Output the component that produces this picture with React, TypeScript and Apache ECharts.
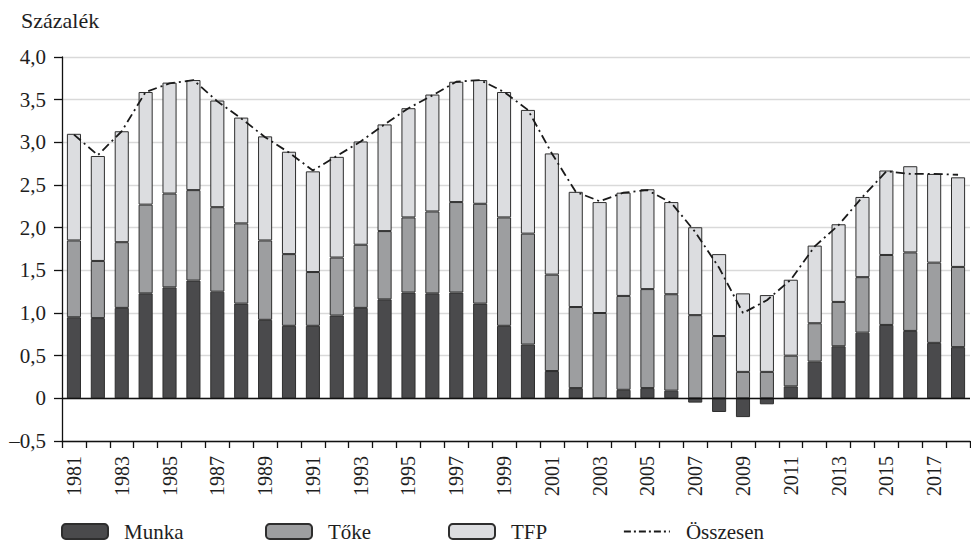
import React, { useEffect, useRef } from "react";
import * as echarts from "echarts";

const years = [
  "1981", "1982", "1983", "1984", "1985", "1986", "1987", "1988", "1989", "1990",
  "1991", "1992", "1993", "1994", "1995", "1996", "1997", "1998", "1999", "2000",
  "2001", "2002", "2003", "2004", "2005", "2006", "2007", "2008", "2009", "2010",
  "2011", "2012", "2013", "2014", "2015", "2016", "2017", "2018",
];

const munka = [
  0.95, 0.94, 1.06, 1.23, 1.3, 1.38, 1.25, 1.11, 0.92, 0.85,
  0.85, 0.97, 1.06, 1.16, 1.24, 1.23, 1.24, 1.11, 0.85, 0.63,
  0.32, 0.12, 0.0, 0.1, 0.12, 0.09, -0.05, -0.16, -0.22, -0.07,
  0.14, 0.43, 0.61, 0.77, 0.86, 0.79, 0.65, 0.6,
];

const toke = [
  0.9, 0.67, 0.77, 1.04, 1.1, 1.06, 0.99, 0.94, 0.93, 0.84,
  0.63, 0.68, 0.74, 0.8, 0.88, 0.96, 1.06, 1.17, 1.27, 1.3,
  1.13, 0.95, 1.0, 1.1, 1.16, 1.13, 0.975, 0.73, 0.31, 0.31,
  0.36, 0.45, 0.52, 0.65, 0.82, 0.92, 0.94, 0.94,
];

const tfp = [
  1.25, 1.23, 1.3, 1.32, 1.3, 1.29, 1.25, 1.24, 1.22, 1.2,
  1.18, 1.18, 1.21, 1.25, 1.28, 1.37, 1.41, 1.45, 1.47, 1.45,
  1.42, 1.35, 1.3, 1.21, 1.17, 1.08, 1.03, 0.96, 0.92, 0.9,
  0.89, 0.91, 0.91, 0.94, 0.99, 1.01, 1.04, 1.05,
];

const osszesen = [
  3.09, 2.85, 3.13, 3.59, 3.69, 3.73, 3.48, 3.28, 3.06, 2.88,
  2.67, 2.84, 3.01, 3.21, 3.4, 3.55, 3.71, 3.73, 3.59, 3.38,
  2.87, 2.42, 2.31, 2.41, 2.44, 2.29, 1.95, 1.53, 1.0, 1.15,
  1.39, 1.78, 2.03, 2.36, 2.66, 2.63, 2.63, 2.62,
];

const FONT = "'Liberation Serif', 'DejaVu Serif', serif";
const TEXT = "#1e1e1e";
const BORDER = "#2e2e2e";

export default function App() {
  const ref = useRef<HTMLDivElement>(null);

  useEffect(() => {
    if (!ref.current) return;
    const chart = echarts.init(ref.current, undefined, { renderer: "svg" });

    const barBase = {
      type: "bar" as const,
      stack: "total",
      barCategoryGap: "41%",
    };

    const legendCommon = {
      orient: "horizontal" as const,
      top: 521,
      padding: 0,
      itemWidth: 46,
      itemHeight: 15,
      itemGap: 0,
      textStyle: {
        fontFamily: FONT,
        fontSize: 21,
        color: TEXT,
        padding: [0, 0, 0, 11],
      },
    };

    chart.setOption({
      animation: false,
      backgroundColor: "#ffffff",
      title: {
        text: "Százalék",
        left: 21,
        top: 9,
        padding: 0,
        textStyle: {
          fontFamily: FONT,
          fontSize: 22,
          fontWeight: "normal",
          color: TEXT,
        },
      },
      legend: [
        { ...legendCommon, left: 61, data: ["Munka"] },
        { ...legendCommon, left: 265, data: ["Tőke"] },
        { ...legendCommon, left: 448, data: ["TFP"] },
        {
          ...legendCommon,
          left: 623,
          data: ["Összesen"],
          itemStyle: {
            color: "rgba(0,0,0,0)",
            borderColor: "rgba(0,0,0,0)",
            borderWidth: 0,
            opacity: 0,
          },
          lineStyle: {
            color: "#1a1a1a",
            width: 1.8,
            type: [7, 3, 2, 3],
          },
        },
      ],
      grid: {
        left: 62,
        right: 1,
        top: 57,
        bottom: 102,
        containLabel: false,
      },
      xAxis: {
        type: "category",
        data: years,
        boundaryGap: true,
        axisLine: {
          onZero: false,
          lineStyle: { color: "#111", width: 1.3 },
        },
        axisTick: {
          show: true,
          interval: 0,
          length: 7,
          lineStyle: { color: "#111", width: 1.3 },
        },
        axisLabel: {
          interval: 1,
          rotate: 90,
          margin: 15,
          fontFamily: FONT,
          fontSize: 20,
          color: TEXT,
        },
        splitLine: { show: false },
      },
      yAxis: {
        type: "value",
        min: -0.5,
        max: 4.0,
        interval: 0.5,
        axisLine: {
          show: true,
          lineStyle: { color: "#111", width: 1.3 },
        },
        axisTick: {
          show: true,
          length: 8,
          lineStyle: { color: "#111", width: 1.3 },
        },
        axisLabel: {
          margin: 16,
          fontFamily: FONT,
          fontSize: 21,
          color: TEXT,
          formatter: (v: number) =>
            Math.abs(v) < 1e-9
              ? "0"
              : v.toFixed(1).replace(".", ",").replace("-", "\u2013"),
        },
        splitLine: {
          show: true,
          lineStyle: { color: "#d9d9d9", width: 1.3 },
        },
      },
      series: [
        {
          ...barBase,
          name: "Munka",
          data: munka,
          itemStyle: { color: "#4a4a4c", borderColor: BORDER, borderWidth: 1 },
          markLine: {
            silent: true,
            symbol: "none",
            label: { show: false },
            lineStyle: { color: "#111", type: "solid", width: 1.4 },
            data: [{ yAxis: 0 }],
          },
        },
        {
          ...barBase,
          name: "Tőke",
          data: toke,
          itemStyle: { color: "#9d9ea0", borderColor: BORDER, borderWidth: 1 },
        },
        {
          ...barBase,
          name: "TFP",
          data: tfp,
          itemStyle: { color: "#dcdde0", borderColor: BORDER, borderWidth: 1 },
        },
        {
          type: "line",
          name: "Összesen",
          data: osszesen,
          symbol: "none",
          z: 5,
          lineStyle: {
            color: "#1a1a1a",
            width: 1.8,
            type: [9, 4, 2, 4],
          },
          itemStyle: { color: "#1a1a1a" },
        },
      ],
    });

    return () => chart.dispose();
  }, []);

  return (
    <div
      ref={ref}
      style={{ position: "fixed", left: 0, top: 0, width: 971, height: 543, background: "#fff" }}
    />
  );
}
